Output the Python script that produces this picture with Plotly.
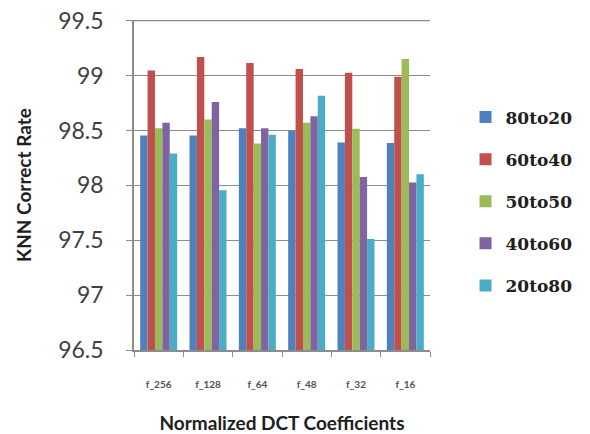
import plotly.graph_objects as go

categories = ["f_256", "f_128", "f_64", "f_48", "f_32", "f_16"]
series_names = ["80to20", "60to40", "50to50", "40to60", "20to80"]
v_80to20 = [98.455, 98.455, 98.52, 98.50, 98.39, 98.385]
v_60to40 = [99.045, 99.17, 99.115, 99.06, 99.025, 98.99]
v_50to50 = [98.52, 98.60, 98.38, 98.57, 98.515, 99.15]
v_40to60 = [98.57, 98.76, 98.52, 98.63, 98.075, 98.025]
v_20to80 = [98.29, 97.955, 98.46, 98.815, 97.51, 98.10]
y_ticks = [96.5, 97, 97.5, 98, 98.5, 99, 99.5]

values = [v_80to20, v_60to40, v_50to50, v_40to60, v_20to80]
colors = ["#4F81BD", "#C0504D", "#9BBB59", "#8064A2", "#4BACC6"]

fig = go.Figure()
for name, vals, col in zip(series_names, values, colors):
    fig.add_trace(go.Bar(
        x=categories, y=vals, name=name, legendgroup=name,
        marker=dict(color=col, line=dict(width=0)),
    ))

grid = "#8C8C8C"
fig.update_layout(
    width=590, height=434,
    margin=dict(l=134, r=130, t=20, b=84),
    paper_bgcolor="white", plot_bgcolor="white",
    barmode="group", bargap=0.25, bargroupgap=0,
    font=dict(family="Lato, Open Sans, sans-serif", color="#404040"),
    showlegend=True,
    legend=dict(
        x=1.12, xanchor="left", y=0.45, yanchor="middle",
        font=dict(size=17, color="#202020", family="DejaVu Serif", weight="bold"),
        tracegroupgap=17, itemwidth=30,
    ),
    xaxis=dict(
        type="category", showline=True, linecolor=grid, linewidth=1.5,
        ticks="outside", ticklen=5, tickcolor=grid, tickson="boundaries",
        tickfont=dict(size=10, color="#505050", weight="bold"), ticklabelstandoff=24,
        showgrid=False, automargin=False,
        title=dict(text="<b>Normalized DCT Coefficients</b>", standoff=33,
                   font=dict(size=19, color="#202020")),
    ),
    yaxis=dict(
        range=[96.5, 99.506], tickvals=y_ticks,
        ticktext=[("%g" % t) for t in y_ticks],
        showline=True, linecolor=grid, linewidth=1.5,
        ticks="outside", ticklen=6, tickcolor=grid,
        showgrid=True, gridcolor=grid, gridwidth=1,
        tickfont=dict(size=23, color="#404040"), ticklabelstandoff=18,
        ticklabeloverflow="allow",
        zeroline=False, automargin=False,
        title=dict(text="<b>KNN Correct Rate</b>", standoff=22,
                   font=dict(size=19, color="#202020")),
    ),
    shapes=[dict(type="line", xref="paper", yref="y", x0=0, x1=1,
                 y0=y_ticks[-1], y1=y_ticks[-1],
                 line=dict(color=grid, width=1.2), layer="above")],
)

fig.write_html("out.html", config={"displayModeBar": False},
               post_script="document.body.style.margin='0';")
